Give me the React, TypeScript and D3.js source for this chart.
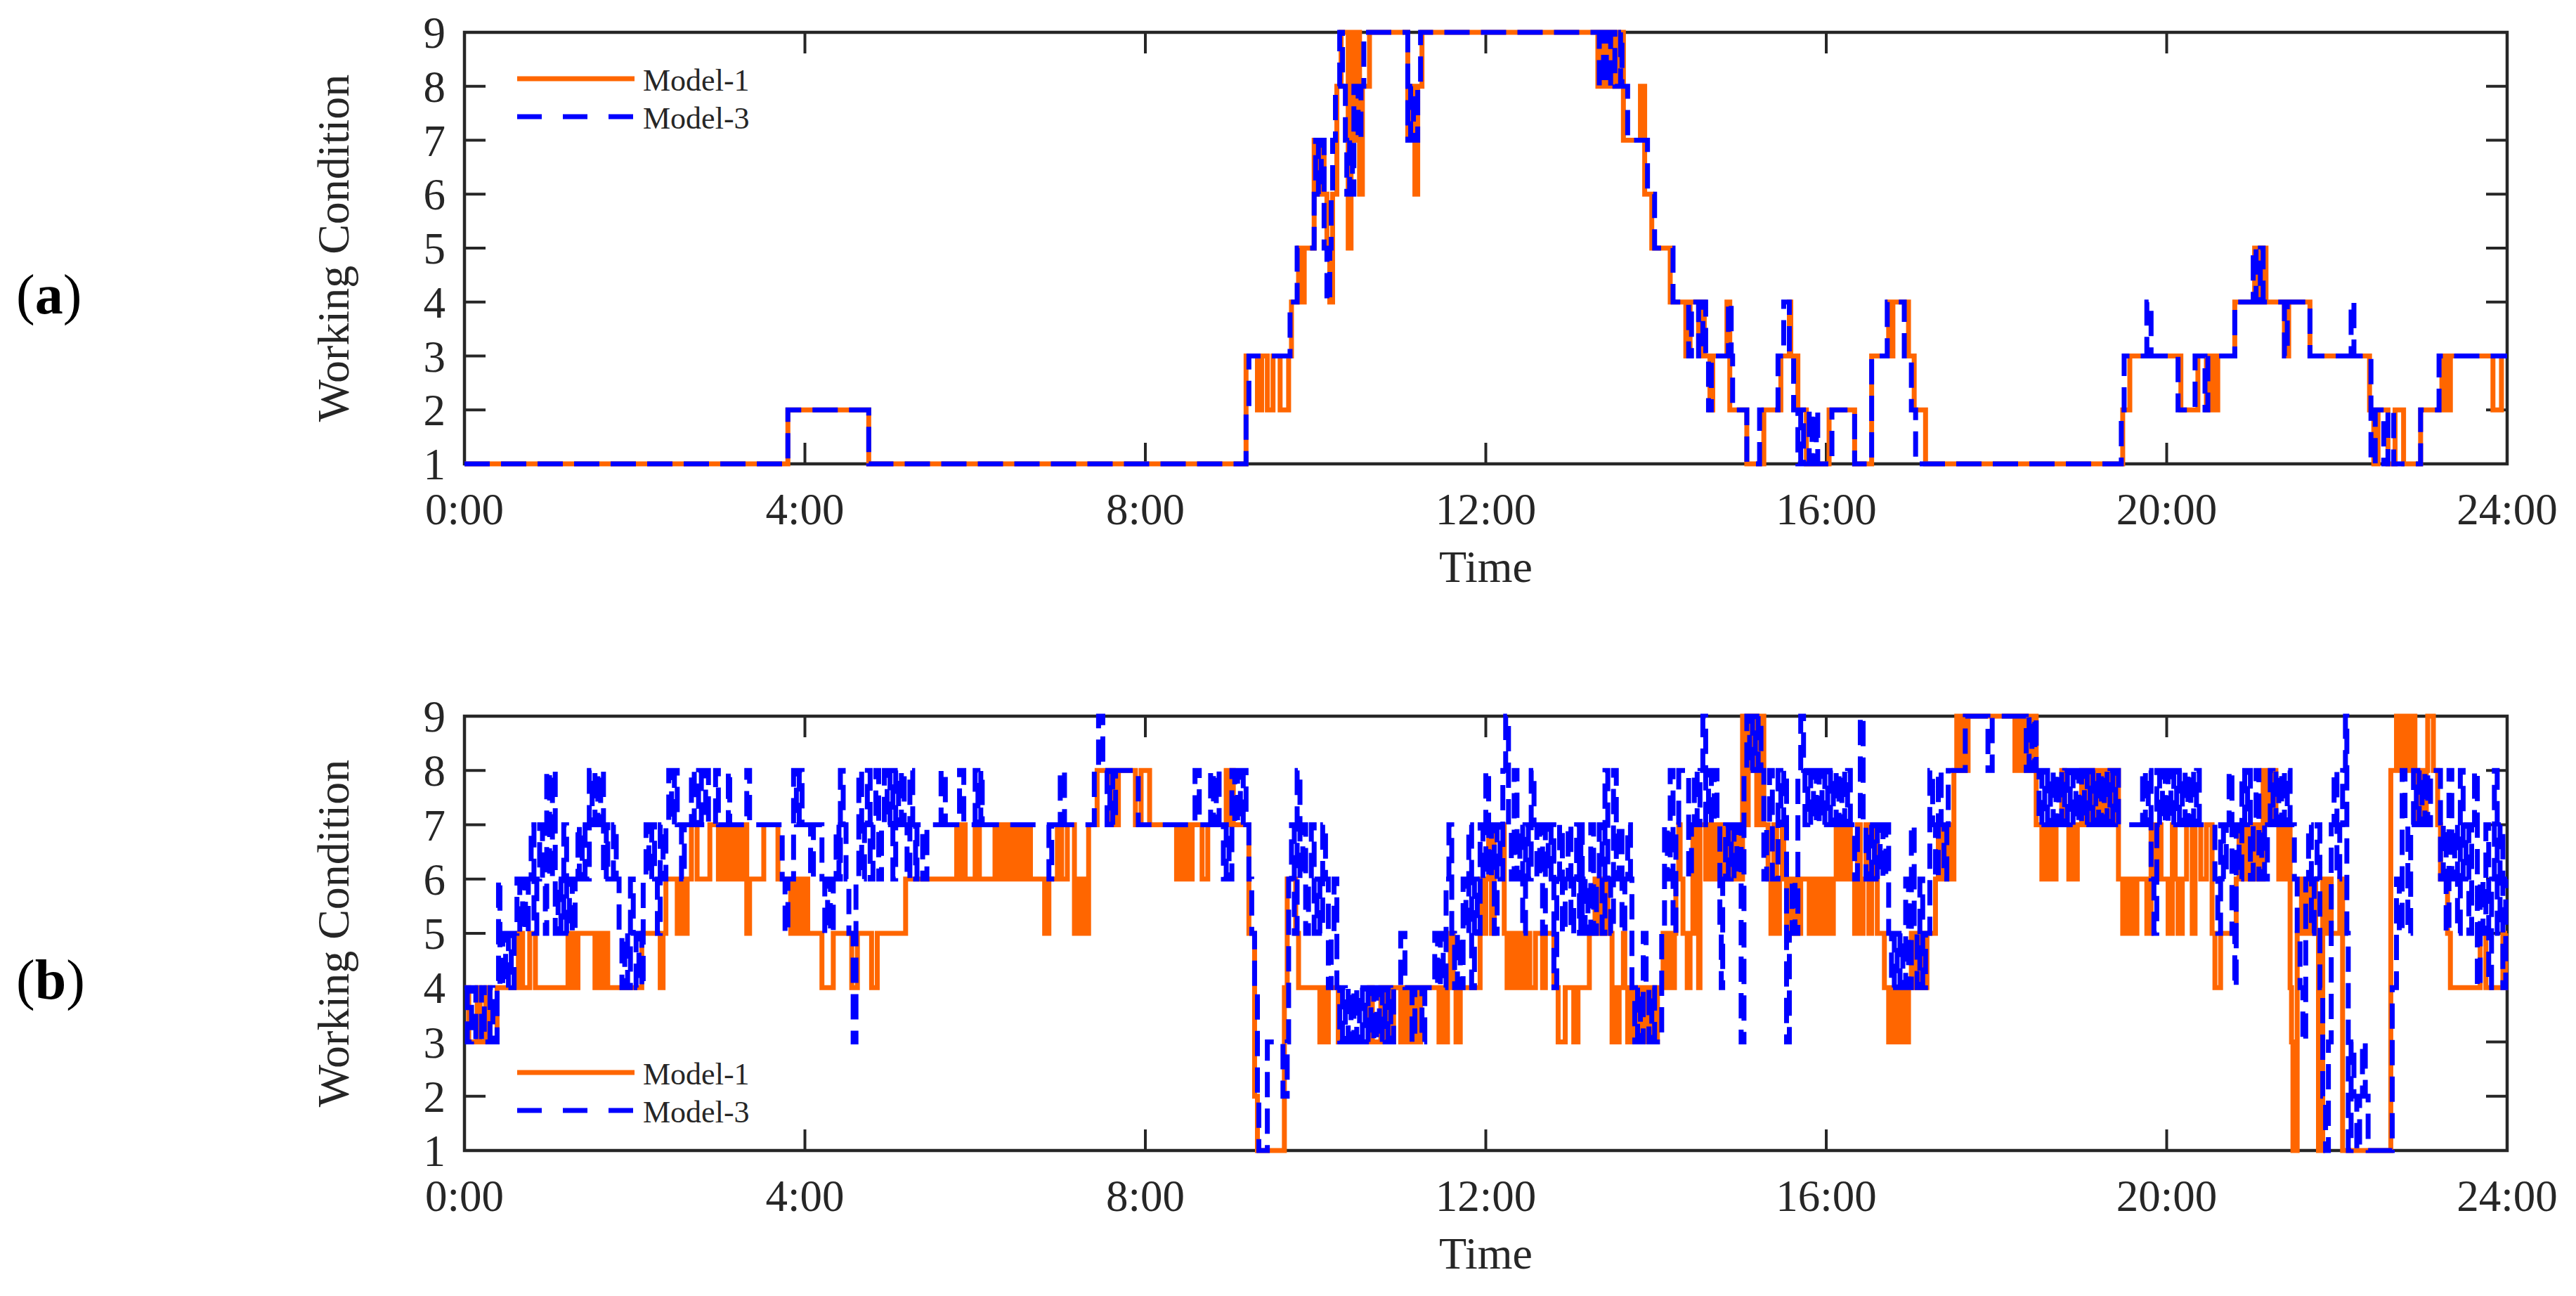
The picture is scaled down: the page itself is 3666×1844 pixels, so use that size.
import React, { useEffect } from 'react';
import * as d3 from 'd3';

// [minute of day, working condition]
type Pt = [number, number];

const hourTicks = [0, 4, 8, 12, 16, 20, 24];
const levelTicks = [1, 2, 3, 4, 5, 6, 7, 8, 9];
const seriesNames = ['Model-1', 'Model-3'];
const panelTags = ['a', 'b'];

const aModel1: Pt[] = [
  [0, 1], [228, 2], [285, 1], [551, 3], [559, 2], [562, 3], [566, 2], [570, 3], [575, 2], [581, 3], [583, 4],
  [588, 5], [590, 4], [592, 5], [599, 7], [601, 6], [603, 7], [606, 6], [608, 5], [610, 4], [612, 6], [615, 8],
  [618, 9], [623, 5], [625, 9], [627, 7], [629, 9], [631, 6], [633, 8], [638, 9], [665, 7], [667, 8], [670, 6],
  [672, 8], [675, 9], [799, 8], [802, 9], [804, 8], [807, 9], [810, 8], [813, 9], [817, 7], [829, 8], [832, 6],
  [837, 5], [850, 4], [861, 3], [864, 4], [870, 3], [871, 4], [874, 3], [878, 2], [880, 3], [890, 4], [892, 2],
  [904, 1], [916, 2], [928, 3], [934, 4], [935, 3], [940, 2], [946, 1], [962, 2], [980, 1], [992, 3], [1004, 4],
  [1006, 3], [1007, 4], [1018, 3], [1022, 2], [1030, 1], [1169, 2], [1174, 3], [1210, 2], [1222, 3], [1228, 2],
  [1231, 3], [1234, 2], [1236, 3], [1248, 4], [1262, 5], [1265, 4], [1267, 5], [1270, 4], [1283, 3], [1286, 4],
  [1301, 3], [1343, 2], [1346, 1], [1349, 2], [1356, 1], [1361, 2], [1367, 1], [1379, 2], [1394, 3], [1395, 2],
  [1397, 3], [1398, 2], [1400, 3], [1430, 2], [1436, 3],
];

const aModel3: Pt[] = [
  [0, 1], [228, 2], [285, 1], [551, 2], [553, 3], [582, 4], [587, 5], [599, 6], [600, 7], [602, 6], [604, 7],
  [606, 5], [608, 4], [610, 5], [611, 6], [612, 7], [614, 8], [617, 9], [619, 8], [621, 7], [622, 6], [624, 7],
  [626, 6], [627, 8], [630, 7], [632, 8], [634, 9], [665, 7], [667, 8], [669, 7], [672, 8], [674, 9], [800, 8],
  [803, 9], [805, 8], [808, 9], [811, 8], [815, 9], [816, 8], [820, 7], [834, 6], [839, 5], [852, 4], [863, 3],
  [865, 4], [870, 3], [873, 4], [875, 3], [877, 2], [879, 3], [891, 4], [893, 3], [894, 2], [904, 1], [913, 2],
  [926, 3], [930, 4], [934, 3], [937, 2], [940, 1], [942, 2], [944, 1], [948, 2], [950, 1], [953, 2], [954, 1],
  [964, 2], [980, 1], [992, 3], [1003, 4], [1015, 3], [1020, 2], [1023, 1], [1168, 2], [1170, 3], [1186, 4],
  [1189, 3], [1208, 2], [1220, 3], [1227, 2], [1229, 3], [1248, 4], [1261, 5], [1263, 4], [1266, 5], [1268, 4],
  [1283, 3], [1285, 4], [1301, 3], [1330, 4], [1332, 3], [1344, 1], [1347, 2], [1353, 1], [1356, 2], [1360, 1],
  [1379, 2], [1392, 3],
];

const bModel1: Pt[] = [
  [0, 4], [3, 3], [9, 4], [11, 3], [15, 4], [18, 3], [23, 4], [38, 5], [41, 4], [46, 5], [50, 4], [73, 5], [75, 4],
  [77, 5], [79, 4], [80, 5], [92, 4], [94, 5], [96, 4], [98, 5], [101, 4], [125, 5], [138, 4], [140, 5], [142, 6],
  [150, 5], [152, 6], [155, 5], [157, 6], [160, 7], [164, 6], [173, 7], [179, 6], [181, 7], [183, 6], [185, 7],
  [187, 6], [189, 7], [191, 6], [193, 7], [195, 6], [197, 7], [199, 5], [201, 6], [211, 7], [221, 6], [230, 5],
  [232, 6], [234, 5], [236, 6], [238, 5], [240, 6], [242, 5], [252, 4], [260, 5], [273, 4], [277, 5], [287, 4],
  [291, 5], [311, 6], [347, 7], [349, 6], [351, 7], [353, 6], [360, 7], [363, 6], [374, 7], [376, 6], [378, 7],
  [380, 6], [382, 7], [384, 6], [386, 7], [388, 6], [390, 7], [392, 6], [394, 7], [396, 6], [398, 7], [399, 6],
  [409, 5], [412, 6], [418, 7], [421, 6], [425, 7], [430, 5], [432, 6], [434, 5], [436, 6], [438, 5], [440, 7],
  [446, 8], [455, 7], [457, 8], [459, 7], [461, 8], [473, 7], [477, 8], [483, 7], [502, 6], [504, 7], [506, 6],
  [508, 7], [510, 6], [513, 7], [520, 6], [524, 7], [537, 8], [539, 7], [540, 8], [542, 7], [553, 5], [557, 2],
  [559, 1], [578, 4], [580, 6], [586, 5], [588, 4], [603, 3], [605, 4], [607, 3], [609, 4], [616, 3], [638, 4],
  [640, 3], [646, 4], [649, 3], [651, 4], [653, 3], [655, 4], [660, 3], [662, 4], [664, 3], [666, 4], [668, 3],
  [670, 4], [672, 3], [674, 4], [687, 3], [689, 4], [691, 3], [693, 4], [695, 5], [697, 4], [699, 3], [702, 4],
  [716, 6], [718, 5], [720, 6], [722, 7], [724, 5], [726, 7], [733, 5], [735, 4], [737, 5], [739, 4], [741, 5],
  [743, 4], [745, 5], [747, 4], [749, 5], [751, 4], [755, 5], [760, 4], [762, 5], [766, 5], [768, 4], [771, 3],
  [776, 4], [782, 3], [785, 4], [793, 5], [797, 6], [799, 5], [801, 6], [803, 5], [805, 6], [806, 5], [809, 3],
  [811, 4], [812, 3], [814, 4], [817, 5], [818, 4], [820, 3], [822, 4], [824, 3], [826, 4], [828, 3], [829, 4],
  [832, 3], [834, 4], [836, 3], [838, 4], [840, 3], [841, 4], [845, 5], [847, 4], [849, 5], [851, 4], [853, 5],
  [854, 6], [856, 7], [857, 6], [859, 5], [862, 4], [864, 5], [866, 7], [868, 5], [870, 4], [871, 7], [875, 6],
  [877, 7], [879, 6], [881, 7], [883, 6], [885, 7], [887, 6], [889, 7], [891, 6], [893, 7], [895, 6], [897, 7],
  [899, 6], [901, 9], [903, 7], [905, 9], [907, 8], [909, 9], [911, 7], [913, 9], [916, 7], [919, 6], [921, 5],
  [923, 7], [925, 5], [927, 6], [929, 7], [930, 6], [932, 5], [934, 6], [936, 5], [938, 6], [940, 5], [942, 6],
  [948, 5], [949, 6], [952, 5], [953, 6], [956, 5], [957, 6], [960, 5], [961, 6], [964, 5], [965, 6], [967, 7],
  [969, 6], [971, 7], [973, 6], [975, 7], [977, 6], [980, 5], [982, 7], [984, 5], [986, 6], [988, 7], [990, 5],
  [992, 6], [994, 7], [996, 5], [1001, 4], [1004, 3], [1006, 4], [1008, 3], [1010, 4], [1012, 3], [1014, 4],
  [1016, 3], [1018, 4], [1020, 5], [1023, 4], [1026, 5], [1029, 4], [1031, 5], [1037, 6], [1039, 7], [1041, 6],
  [1043, 7], [1045, 6], [1047, 7], [1049, 6], [1050, 8], [1052, 9], [1054, 8], [1056, 9], [1058, 8], [1060, 9],
  [1093, 8], [1096, 9], [1099, 8], [1101, 9], [1103, 8], [1105, 9], [1108, 7], [1112, 6], [1114, 7], [1116, 6],
  [1118, 7], [1120, 6], [1122, 7], [1126, 8], [1128, 7], [1131, 6], [1133, 7], [1135, 6], [1137, 7], [1140, 8],
  [1142, 7], [1144, 8], [1146, 7], [1148, 8], [1150, 7], [1152, 8], [1154, 7], [1156, 8], [1158, 7], [1160, 8],
  [1162, 7], [1164, 8], [1166, 6], [1169, 5], [1171, 6], [1173, 5], [1175, 6], [1177, 5], [1179, 6], [1186, 5],
  [1189, 7], [1191, 6], [1193, 7], [1196, 6], [1201, 5], [1204, 7], [1206, 6], [1208, 5], [1211, 6], [1214, 7],
  [1218, 5], [1220, 7], [1224, 6], [1228, 7], [1232, 5], [1234, 4], [1238, 5], [1249, 6], [1251, 7], [1253, 6],
  [1255, 7], [1256, 6], [1258, 7], [1260, 6], [1262, 7], [1265, 6], [1268, 8], [1270, 7], [1272, 8], [1274, 7],
  [1276, 8], [1277, 7], [1279, 6], [1281, 7], [1283, 6], [1285, 7], [1287, 4], [1288, 3], [1289, 1], [1292, 5],
  [1295, 6], [1297, 5], [1299, 6], [1301, 5], [1303, 6], [1305, 5], [1307, 1], [1310, 6], [1312, 5], [1314, 6],
  [1316, 5], [1322, 6], [1324, 1], [1358, 8], [1362, 9], [1364, 8], [1366, 9], [1368, 8], [1370, 9], [1372, 8],
  [1374, 9], [1375, 8], [1377, 7], [1379, 8], [1381, 7], [1383, 8], [1384, 9], [1388, 8], [1391, 7], [1393, 6],
  [1398, 5], [1400, 4], [1421, 5], [1425, 4], [1437, 5], [1438, 4], [1439, 5],
];

const bModel3: Pt[] = [
  [0, 4], [2, 3], [5, 4], [8, 3], [12, 4], [14, 3], [18, 4], [20, 3], [23, 4], [24, 6], [25, 4], [27, 5], [29, 4],
  [31, 5], [33, 4], [35, 5], [37, 6], [39, 5], [41, 6], [43, 5], [45, 6], [47, 7], [49, 5], [51, 6], [53, 7],
  [55, 6], [57, 5], [58, 8], [60, 6], [62, 8], [64, 5], [66, 6], [68, 5], [70, 7], [72, 5], [74, 6], [76, 5],
  [78, 6], [80, 7], [81, 6], [83, 7], [85, 6], [88, 8], [90, 7], [92, 8], [94, 7], [96, 8], [98, 6], [100, 7],
  [101, 6], [105, 7], [107, 6], [109, 5], [111, 4], [113, 5], [115, 4], [117, 6], [119, 5], [121, 4], [123, 5],
  [125, 4], [126, 6], [128, 7], [130, 6], [132, 7], [134, 6], [136, 5], [138, 7], [140, 6], [142, 7], [144, 8],
  [146, 7], [148, 8], [150, 7], [153, 6], [155, 7], [160, 8], [162, 7], [165, 8], [167, 7], [170, 8], [172, 7],
  [177, 8], [179, 7], [186, 8], [187, 7], [199, 8], [201, 7], [224, 6], [226, 5], [228, 6], [232, 8], [234, 7],
  [236, 8], [238, 7], [244, 6], [246, 7], [252, 6], [254, 5], [256, 6], [258, 5], [260, 6], [262, 7], [264, 6],
  [265, 8], [267, 7], [269, 6], [271, 5], [274, 3], [276, 6], [278, 8], [280, 6], [282, 7], [284, 8], [286, 6],
  [288, 7], [290, 8], [292, 6], [294, 7], [296, 8], [298, 7], [300, 8], [302, 6], [304, 8], [306, 7], [308, 8],
  [310, 7], [312, 6], [314, 8], [316, 7], [318, 6], [319, 7], [323, 6], [326, 7], [336, 8], [339, 7], [349, 8],
  [352, 7], [360, 8], [362, 7], [364, 8], [365, 7], [412, 6], [414, 7], [420, 8], [423, 7], [444, 8], [447, 9],
  [450, 8], [453, 7], [455, 8], [457, 7], [459, 8], [475, 7], [515, 8], [518, 7], [526, 8], [528, 7], [530, 8],
  [532, 7], [535, 6], [537, 7], [539, 6], [541, 8], [543, 7], [545, 8], [547, 7], [549, 8], [551, 7], [553, 6],
  [555, 5], [557, 4], [559, 2], [560, 1], [566, 3], [577, 2], [580, 3], [581, 6], [583, 7], [585, 5], [587, 8],
  [589, 6], [591, 7], [593, 5], [595, 6], [597, 7], [599, 5], [601, 6], [603, 5], [605, 7], [607, 6], [609, 4],
  [611, 5], [613, 6], [615, 4], [617, 3], [619, 4], [621, 3], [623, 4], [625, 3], [627, 4], [629, 3], [631, 4],
  [633, 3], [635, 4], [637, 3], [639, 4], [641, 3], [643, 4], [645, 3], [647, 4], [649, 3], [651, 4], [653, 3],
  [655, 4], [660, 5], [663, 4], [668, 3], [670, 4], [675, 3], [677, 4], [684, 5], [686, 4], [688, 5], [690, 4],
  [692, 6], [694, 7], [696, 5], [698, 4], [700, 5], [702, 4], [704, 6], [706, 5], [708, 7], [710, 4], [712, 6],
  [714, 5], [716, 7], [718, 6], [720, 8], [722, 6], [724, 7], [726, 5], [728, 7], [730, 6], [732, 8], [734, 9],
  [736, 7], [738, 6], [740, 8], [742, 6], [744, 7], [746, 5], [748, 7], [750, 6], [752, 8], [754, 7], [756, 6],
  [758, 7], [760, 5], [762, 7], [764, 6], [766, 7], [768, 4], [770, 6], [772, 7], [774, 5], [776, 6], [778, 7],
  [780, 5], [782, 6], [784, 7], [786, 5], [787, 7], [788, 5], [790, 6], [792, 5], [794, 7], [796, 5], [798, 6],
  [800, 7], [802, 5], [804, 8], [806, 6], [808, 5], [810, 8], [812, 6], [814, 7], [816, 5], [818, 6], [820, 7],
  [822, 6], [823, 4], [825, 3], [827, 4], [829, 3], [831, 5], [833, 4], [835, 3], [837, 4], [839, 3], [844, 5],
  [846, 7], [848, 6], [850, 8], [852, 5], [854, 7], [856, 8], [863, 6], [865, 7], [867, 8], [869, 7], [871, 8],
  [873, 9], [875, 7], [877, 8], [879, 7], [881, 8], [883, 7], [885, 5], [886, 4], [887, 6], [889, 7], [891, 6],
  [893, 7], [895, 6], [897, 7], [900, 3], [902, 8], [904, 9], [906, 8], [908, 9], [910, 8], [912, 9], [914, 8],
  [916, 6], [918, 7], [920, 8], [922, 6], [926, 8], [928, 7], [930, 8], [932, 3], [934, 5], [936, 6], [938, 5],
  [940, 8], [942, 9], [944, 8], [945, 7], [947, 8], [949, 7], [951, 8], [953, 7], [955, 8], [957, 7], [959, 8],
  [961, 7], [963, 8], [965, 7], [967, 8], [969, 7], [971, 8], [973, 7], [975, 8], [977, 7], [980, 6], [982, 7],
  [984, 9], [986, 7], [988, 6], [990, 7], [992, 6], [994, 7], [996, 6], [998, 7], [1000, 6], [1002, 7], [1004, 5],
  [1006, 4], [1008, 5], [1010, 4], [1012, 5], [1014, 4], [1016, 6], [1018, 4], [1020, 7], [1022, 5], [1024, 4],
  [1026, 6], [1028, 4], [1030, 5], [1033, 8], [1035, 7], [1037, 6], [1039, 8], [1041, 7], [1043, 6], [1045, 7],
  [1046, 8], [1058, 9], [1074, 8], [1077, 9], [1101, 8], [1103, 9], [1105, 8], [1107, 9], [1108, 8], [1110, 7],
  [1112, 8], [1114, 7], [1116, 8], [1118, 7], [1120, 8], [1122, 7], [1124, 8], [1126, 7], [1128, 8], [1130, 7],
  [1132, 8], [1134, 7], [1136, 8], [1138, 7], [1140, 8], [1142, 7], [1144, 8], [1146, 7], [1148, 8], [1150, 7],
  [1152, 8], [1154, 7], [1156, 8], [1158, 7], [1160, 8], [1162, 7], [1164, 8], [1166, 7], [1183, 8], [1185, 7],
  [1187, 8], [1189, 6], [1191, 5], [1193, 8], [1195, 7], [1197, 8], [1199, 7], [1201, 8], [1203, 7], [1205, 8],
  [1207, 7], [1209, 8], [1211, 7], [1213, 8], [1215, 7], [1217, 8], [1219, 7], [1221, 8], [1223, 7], [1234, 6],
  [1236, 5], [1238, 7], [1240, 6], [1242, 7], [1244, 8], [1246, 5], [1248, 4], [1249, 7], [1251, 6], [1253, 8],
  [1255, 7], [1257, 8], [1259, 6], [1261, 7], [1263, 8], [1265, 6], [1267, 7], [1269, 6], [1271, 7], [1273, 8],
  [1275, 7], [1277, 8], [1279, 7], [1281, 8], [1283, 7], [1285, 8], [1287, 7], [1290, 6], [1292, 5], [1294, 4],
  [1296, 3], [1298, 6], [1300, 7], [1302, 5], [1304, 6], [1306, 7], [1308, 4], [1310, 2], [1312, 1], [1314, 3],
  [1316, 7], [1318, 8], [1320, 6], [1322, 7], [1324, 8], [1326, 9], [1327, 5], [1328, 1], [1330, 3], [1332, 2],
  [1334, 1], [1336, 2], [1338, 3], [1340, 2], [1342, 1], [1359, 4], [1362, 6], [1364, 5], [1366, 8], [1368, 7],
  [1370, 5], [1372, 7], [1374, 8], [1376, 7], [1378, 8], [1380, 7], [1382, 8], [1384, 7], [1386, 8], [1393, 6],
  [1395, 7], [1397, 5], [1399, 8], [1401, 6], [1403, 7], [1405, 5], [1407, 8], [1409, 6], [1411, 7], [1413, 5],
  [1415, 7], [1417, 8], [1419, 4], [1421, 6], [1423, 5], [1425, 7], [1427, 4], [1429, 6], [1431, 8], [1433, 5],
  [1435, 7], [1437, 4], [1439, 6],
];

const W = 3666;
const H = 1844;
const X0 = 661;
const X1 = 3568;
const TICK = 30;
const FONT = '"Liberation Serif", "Times New Roman", serif';
const INK = '#262626';
const ORANGE = '#FF6600';
const BLUE = '#0000FF';

const x = d3.scaleLinear().domain([0, 1440]).range([X0, X1]);

// extend the last step to the end of the day
const toEnd = (s: Pt[]): Pt[] => [...s, [1440, s[s.length - 1][1]]];

interface PanelProps {
  top: number;
  bottom: number;
  tag: string;
  m1: Pt[];
  m3: Pt[];
  legendY: number;
}

const Panel: React.FC<PanelProps> = ({ top, bottom, tag, m1, m3, legendY }) => {
  const y = d3.scaleLinear().domain([1, 9]).range([bottom, top]);
  const line = d3
    .line<Pt>()
    .x(d => x(d[0]))
    .y(d => y(d[1]))
    .curve(d3.curveStepAfter);
  const midY = (top + bottom) / 2;
  const midX = (X0 + X1) / 2;

  return (
    <g>
      {/* panel tag */}
      <text x={23} y={midY + 93} fontFamily={FONT} fontSize={80} fill="#000">
        (<tspan fontWeight="bold">{tag}</tspan>)
      </text>

      {/* box */}
      <rect x={X0} y={top} width={X1 - X0} height={bottom - top} fill="none" stroke={INK} strokeWidth={4.5} />

      {/* x ticks, inward on top and bottom */}
      {hourTicks.map(h => (
        <g key={'x' + h}>
          <line x1={x(h * 60)} x2={x(h * 60)} y1={bottom} y2={bottom - TICK} stroke={INK} strokeWidth={4} />
          <line x1={x(h * 60)} x2={x(h * 60)} y1={top} y2={top + TICK} stroke={INK} strokeWidth={4} />
          <text x={x(h * 60)} y={bottom + 86} textAnchor="middle" fontFamily={FONT} fontSize={63} fill={INK}>
            {`${h}:00`}
          </text>
        </g>
      ))}

      {/* y ticks, inward on left and right */}
      {levelTicks.map(v => (
        <g key={'y' + v}>
          <line x1={X0} x2={X0 + TICK} y1={y(v)} y2={y(v)} stroke={INK} strokeWidth={4} />
          <line x1={X1} x2={X1 - TICK} y1={y(v)} y2={y(v)} stroke={INK} strokeWidth={4} />
          <text x={634} y={y(v) + 22} textAnchor="end" fontFamily={FONT} fontSize={63} fill={INK}>
            {v}
          </text>
        </g>
      ))}

      {/* axis titles */}
      <text
        transform={`translate(496,${midY}) rotate(-90)`}
        textAnchor="middle"
        fontFamily={FONT}
        fontSize={64}
        fill={INK}
      >
        Working Condition
      </text>
      <text x={midX} y={bottom + 168} textAnchor="middle" fontFamily={FONT} fontSize={64} fill={INK}>
        Time
      </text>

      {/* series */}
      <path d={line(toEnd(m1)) || ''} fill="none" stroke={ORANGE} strokeWidth={7} strokeLinejoin="miter" />
      <path
        d={line(toEnd(m3)) || ''}
        fill="none"
        stroke={BLUE}
        strokeWidth={7}
        strokeDasharray="36,16"
        strokeLinejoin="miter"
      />

      {/* legend */}
      <line x1={736} x2={903} y1={legendY} y2={legendY} stroke={ORANGE} strokeWidth={7} />
      <text x={915} y={legendY + 17} fontFamily={FONT} fontSize={44} fill={INK}>
        {seriesNames[0]}
      </text>
      <line
        x1={736}
        x2={903}
        y1={legendY + 54}
        y2={legendY + 54}
        stroke={BLUE}
        strokeWidth={7}
        strokeDasharray="35,30"
      />
      <text x={915} y={legendY + 54 + 17} fontFamily={FONT} fontSize={44} fill={INK}>
        {seriesNames[1]}
      </text>
    </g>
  );
};

export default function App() {
  useEffect(() => {
    document.body.style.margin = '0';
  }, []);

  return (
    <svg
      width={W}
      height={H}
      viewBox={`0 0 ${W} ${H}`}
      style={{ position: 'absolute', left: 0, top: 0, display: 'block', background: '#fff' }}
    >
      <rect width={W} height={H} fill="#fff" />
      <Panel top={46} bottom={660} tag={panelTags[0]} m1={aModel1} m3={aModel3} legendY={112} />
      <Panel top={1019} bottom={1637} tag={panelTags[1]} m1={bModel1} m3={bModel3} legendY={1526} />
    </svg>
  );
}
